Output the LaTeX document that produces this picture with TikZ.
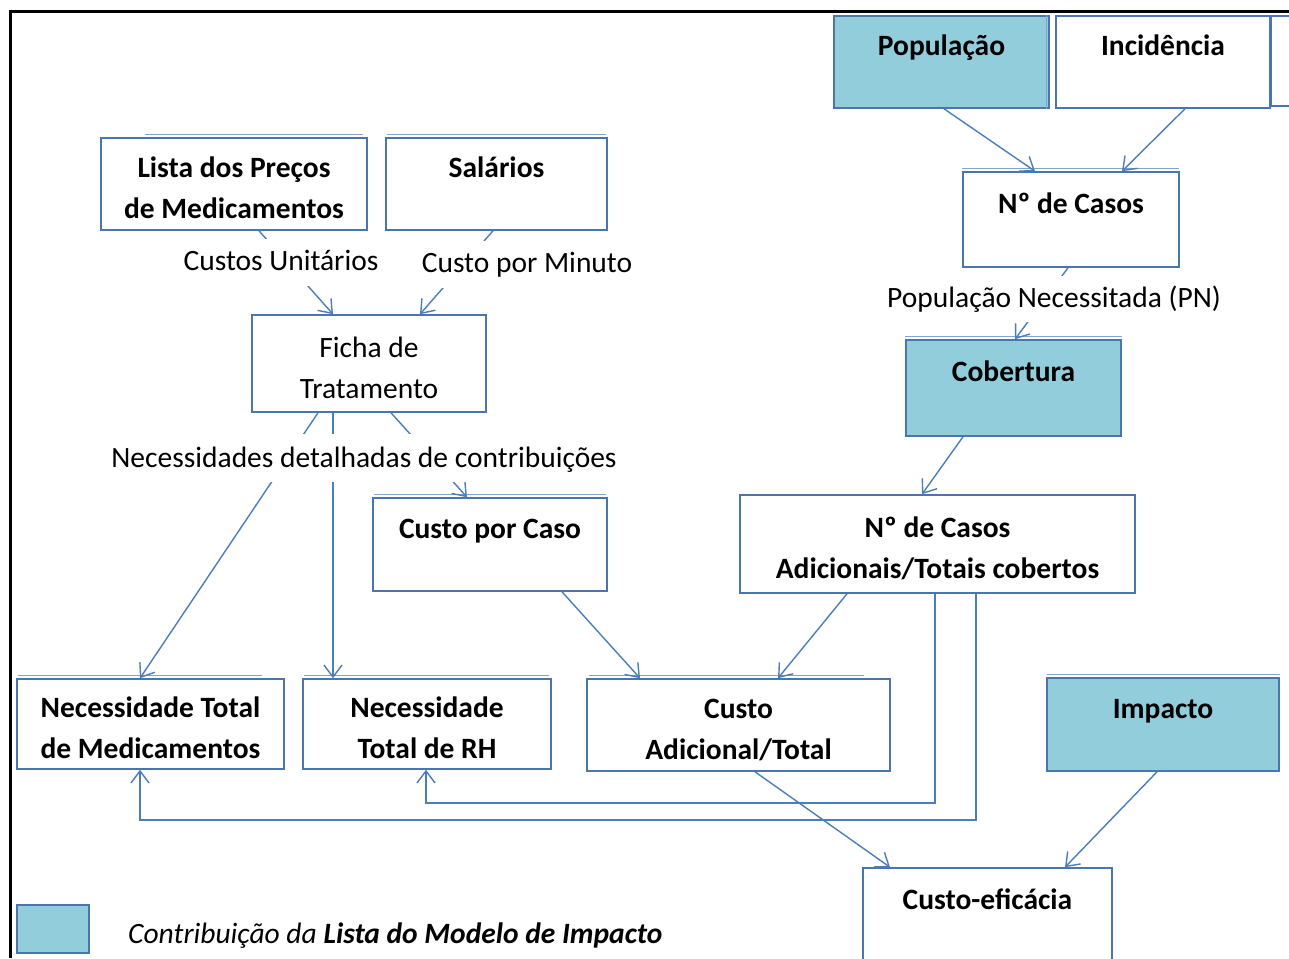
\documentclass[tikz,border=0pt]{standalone}
\usepackage{fontspec}
\setmainfont{Carlito}
\usetikzlibrary{arrows.meta}
\definecolor{cline}{HTML}{4A7EBB}
\definecolor{cbord}{HTML}{4A75AE}
\definecolor{cfill}{HTML}{92CDDC}
\newcommand{\lnstrut}{\rule[-6.5pt]{0pt}{41pt}}
\begin{document}
\begin{tikzpicture}[x=1pt,y=-1pt,
  box/.style={draw=cbord,line width=1.6pt,inner sep=0pt,align=center,font=\fontsize{29.5}{41}\selectfont\bfseries},
  blue/.style={fill=cfill},
  plainbox/.style={box,font=\fontsize{29.5}{41}\selectfont},
  lbl/.style={fill=white,inner sep=0pt,anchor=base,text height=31pt,text depth=16pt,font=\fontsize{29.5}{41}\selectfont},
  conn/.style={draw=cline,line width=1.4pt,-{Straight Barb[length=12pt,width=18pt]}},
  ghost/.style={draw=cline!70,line width=1.1pt}]
\useasboundingbox (0,0) rectangle (1289,958);
% frame
\draw[line width=3pt,black] (10,958) -- (10,12) -- (1289,12);

% boxes
\node[box,blue,minimum width=215pt,minimum height=92pt] (pop) at (941.5,62) {\lnstrut População\\\lnstrut};
\node[box,minimum width=214pt,minimum height=92pt] (inc) at (1163,62) {\lnstrut Incidência\\\lnstrut};
\node[box,minimum width=140pt,minimum height=90pt,anchor=west] (extra) at (1270,61) {};
\node[box,minimum width=266pt,minimum height=92pt] (lista) at (234,184) {\lnstrut Lista dos Preços\\\lnstrut de Medicamentos};
\node[box,minimum width=221pt,minimum height=92pt] (sal) at (496.5,184) {\lnstrut Salários\\\lnstrut};
\node[plainbox,minimum width=234pt,minimum height=97pt] (ficha) at (369,363.5) {\lnstrut Ficha de\\\lnstrut Tratamento};
\node[box,minimum width=216pt,minimum height=95pt] (casos) at (1071,219.5) {\lnstrut Nº de Casos\\\lnstrut};
\node[box,blue,minimum width=215pt,minimum height=96pt] (cob) at (1013.5,388) {\lnstrut Cobertura\\\lnstrut};
\node[box,minimum width=234pt,minimum height=93pt] (cpc) at (490,544.5) {\lnstrut Custo por Caso\\\lnstrut};
\node[box,minimum width=395pt,minimum height=98pt] (adic) at (937.5,544) {\lnstrut Nº de Casos\\\lnstrut Adicionais/Totais cobertos};
\node[box,minimum width=267pt,minimum height=90pt] (med) at (150.5,724) {\lnstrut Necessidade Total\\\lnstrut de Medicamentos};
\node[box,minimum width=248pt,minimum height=90pt] (rh) at (427,724) {\lnstrut Necessidade\\\lnstrut Total de RH};
\node[box,minimum width=303pt,minimum height=92pt] (custo) at (738.5,725) {\lnstrut Custo\\\lnstrut Adicional/Total};
\node[box,blue,minimum width=232pt,minimum height=93pt] (imp) at (1163,724.5) {\lnstrut Impacto\\\lnstrut};
\node[box,minimum width=249pt,minimum height=96pt] (ce) at (987.5,916) {\lnstrut Custo-eficácia\\\lnstrut};

% ghost double edges
\draw[ghost] ([shift={(45pt,3pt)}]lista.north west) -- ([shift={(-5pt,3pt)}]lista.north east);
\draw[ghost] ([shift={(2pt,3pt)}]sal.north west) -- ([shift={(-2pt,3pt)}]sal.north east);
\draw[ghost] ([shift={(0pt,3pt)}]casos.north west) -- ([shift={(-1pt,3pt)}]casos.north east);
\draw[ghost] ([shift={(0pt,3pt)}]cob.north west) -- ([shift={(0pt,3pt)}]cob.north east);
\draw[ghost] ([shift={(2pt,3pt)}]cpc.north west) -- ([shift={(-2pt,3pt)}]cpc.north east);
\draw[ghost] ([shift={(2pt,3pt)}]med.north west) -- ([shift={(-23pt,3pt)}]med.north east);
\draw[ghost] ([shift={(2pt,3pt)}]rh.north west) -- ([shift={(-3pt,3pt)}]rh.north east);
\draw[ghost] ([shift={(3pt,3pt)}]custo.north west) -- ([shift={(-27pt,3pt)}]custo.north east);
\draw[ghost] ([shift={(1pt,3pt)}]imp.north west) -- ([shift={(0pt,3pt)}]imp.north east);
\draw[ghost] ([shift={(-3pt,0pt)}]pop.north east) -- ([shift={(-3pt,0pt)}]pop.south east);

% connectors
\draw[conn] (944,0 |- pop.south) -- (1035,0 |- casos.north);
\draw[conn] (1185,0 |- inc.south) -- (1122,0 |- casos.north);
\draw[conn] (1068,0 |- casos.south) -- (1015,0 |- cob.north);
\draw[conn] (963,0 |- cob.south) -- (922,0 |- adic.north);
\draw[conn] (259,0 |- lista.south) -- (333,0 |- ficha.north);
\draw[conn] (493,0 |- sal.south) -- (420,0 |- ficha.north);
\draw[conn] (318,0 |- ficha.south) -- (140,0 |- med.north);
\draw[conn] (333,0 |- ficha.south) -- (333,0 |- rh.north);
\draw[conn] (391,0 |- ficha.south) -- (467,0 |- cpc.north);
\draw[conn] (847,0 |- adic.south) -- (778,0 |- custo.north);
\draw[conn] (562,0 |- cpc.south) -- (640,0 |- custo.north);
\draw[conn] (755,0 |- custo.south) -- (890,0 |- ce.north);
\draw[conn] (1157,0 |- imp.south) -- (1065,0 |- ce.north);
\draw[conn] (935,0 |- adic.south) -- (935,803) -- (426,803) -- (426,0 |- rh.south);
\draw[conn] (976,0 |- adic.south) -- (976,820) -- (140,820) -- (140,0 |- med.south);

% labels over connectors
\node[lbl] (lcu) at (281,270) {Custos Unitários};
\node[lbl] (lcm) at (527,272) {Custo por Minuto};
\node[lbl,text height=33pt,text depth=15pt] (lnd) at (364,467) {Necessidades detalhadas de contribuições};
\node[lbl,text depth=15pt] (lpn) at (1054,307) {População Necessitada (PN)};

% legend
\node[draw=cbord,line width=1.6pt,fill=cfill,minimum width=72pt,minimum height=48pt,inner sep=0pt] (leg) at (53,929) {};
\node[anchor=base west,inner sep=0pt,font=\fontsize{29.5}{41}\selectfont\itshape] (legt) at (128,943) {Contribuição da \textbf{Lista do Modelo de Impacto}};
\end{tikzpicture}
\end{document}
